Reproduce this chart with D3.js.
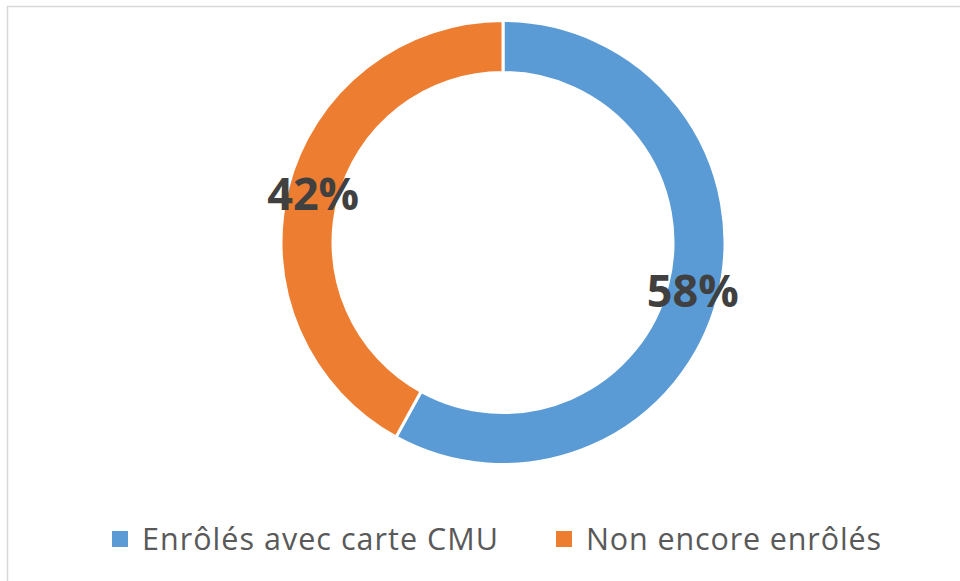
<!DOCTYPE html>
<html><head><meta charset="utf-8">
<script src="https://cdn.jsdelivr.net/npm/d3@7"></script>
<style>body{margin:0;background:#fff}svg{display:block}</style>
</head><body>
<script>
const categories = ["Enrôlés avec carte CMU", "Non encore enrôlés"];
const values = [58, 42];
const labels = ["58%", "42%"];
const colors = ["#5b9bd5", "#ed7d31"];

const W = 960, H = 581;
const svg = d3.select("body").append("svg").attr("width", W).attr("height", H);
svg.append("rect").attr("x", 7.5).attr("y", 6.5).attr("width", 1000).attr("height", 1000)
  .attr("fill", "#fff").attr("stroke", "#d9d9d9").attr("stroke-width", 1.5);

const cx = 503, cy = 242.5, rO = 222, rI = 170;
const pie = d3.pie().sort(null).value(d => d)(values);
const arc = d3.arc().innerRadius(rI).outerRadius(rO);
const g = svg.append("g").attr("transform", `translate(${cx},${cy})`);
g.selectAll("path").data(pie).join("path")
  .attr("d", arc).attr("fill", (d, i) => colors[i])
  .attr("stroke", "#fff").attr("stroke-width", 3);
g.selectAll("text").data(pie).join("text")
  .attr("transform", d => `translate(${arc.centroid(d)})`)
  .attr("text-anchor", "middle").attr("dy", "0.36em")
  .attr("font-family", "Open Sans, sans-serif").attr("font-weight", "bold")
  .attr("font-size", 45).attr("fill", "#404040")
  .text((d, i) => labels[i]);

const legendX = [112, 556];
const legendW = [356, 295];
const lg = svg.append("g");
categories.forEach((c, i) => {
  lg.append("rect").attr("x", legendX[i]).attr("y", 531).attr("width", 16).attr("height", 16).attr("fill", colors[i]);
  const t = lg.append("text").attr("x", legendX[i] + 30).attr("y", 549.5)
    .attr("font-family", "Open Sans, sans-serif").attr("font-size", 30.5).attr("fill", "#595959")
    .text(c);
  const len = t.node().getComputedTextLength();
  const n = c.length;
  t.attr("letter-spacing", (legendW[i] - len) / (n - 1));
});
</script>
</body></html>
